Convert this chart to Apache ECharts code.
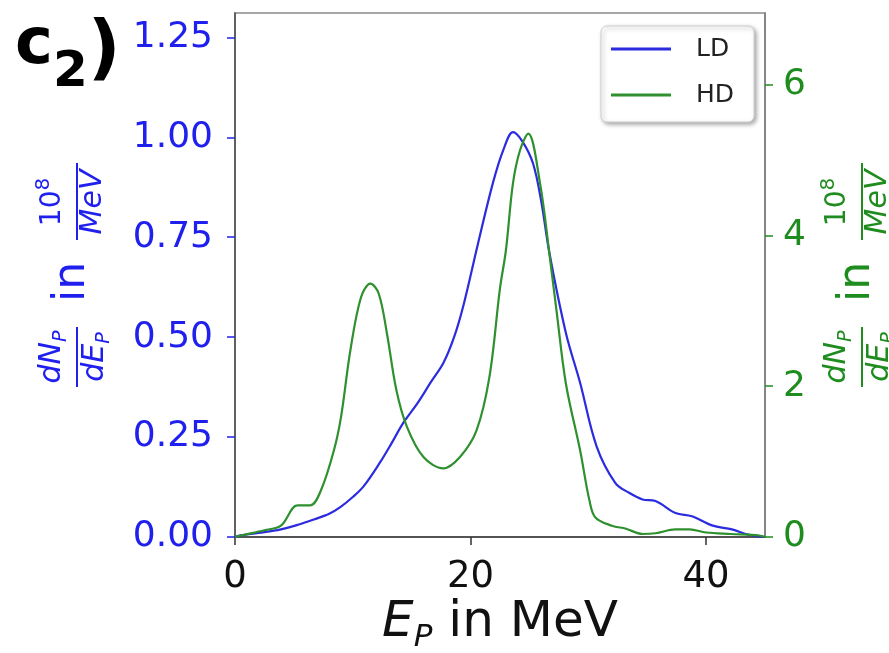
<!DOCTYPE html>
<html>
<head>
<meta charset="utf-8">
<script src="https://cdn.jsdelivr.net/npm/echarts@6/dist/echarts.min.js"></script>
<style>
html,body{margin:0;padding:0;background:#fff;}
#c{width:889px;height:653px;}
</style>
</head>
<body>
<div id="c"></div>
<script>
// ---- data ----
const ldX = [0, 0.5, 2, 3.9, 5.5, 6.7, 8, 9, 10, 10.9, 12.3, 13.3, 14.3, 15.5, 16.6, 17.7, 18.6, 19.4, 20.6, 21.9, 22.8, 23.6, 24.4, 25.3, 26.0, 26.7, 28.1, 29.3, 30.7, 32.3, 33.5, 34.6, 35.7, 37.4, 38.8, 40.5, 42.2, 43.6, 45];
const ldY = [0, 0.004, 0.01, 0.019, 0.032, 0.044, 0.058, 0.076, 0.1, 0.126, 0.186, 0.235, 0.286, 0.335, 0.386, 0.436, 0.5, 0.58, 0.73, 0.886, 0.97, 1.013, 0.99, 0.935, 0.84, 0.71, 0.51, 0.386, 0.227, 0.135, 0.11, 0.094, 0.09, 0.06, 0.052, 0.029, 0.019, 0.006, 0.0];
const hdX = [0, 0.5, 2.5, 3.9, 5.3, 6.4, 7.3, 8.4, 9.0, 9.8, 10.7, 11.5, 12.2, 12.9, 13.7, 14.6, 16.0, 17.7, 19.1, 20.5, 21.6, 22.5, 23.0, 23.6, 24.2, 24.9, 25.9, 26.7, 27.3, 28.1, 29.3, 30.1, 30.6, 32.0, 33.2, 34.6, 35.7, 37.4, 38.6, 40.0, 42.1, 44.5, 45];
const hdY = [0, 0.02, 0.09, 0.15, 0.42, 0.42, 0.62, 1.15, 1.59, 2.48, 3.18, 3.36, 3.23, 2.70, 1.95, 1.46, 1.06, 0.91, 1.06, 1.41, 2.12, 3.3, 3.8, 4.69, 5.13, 5.35, 4.69, 3.75, 3.0, 2.03, 1.15, 0.48, 0.26, 0.15, 0.11, 0.04, 0.05, 0.10, 0.10, 0.06, 0.04, 0.02, 0.0];
const xTicks = [0, 20, 40];
const leftTicks = [0, 0.25, 0.5, 0.75, 1.0, 1.25];
const rightTicks = [0, 2, 4, 6];
const seriesNames = ['LD', 'HD'];

// ---- styling ----
const BLUE = '#2020ee', BLUE_LINE = '#2b2bdf';
const GREEN = '#1f8c1f', GREEN_LINE = '#2e902e';
const FF = '"DejaVu Sans"';

const cv = document.createElement('canvas').getContext('2d');
function fontStr(p){ return (p.bold?'bold ':'') + (p.it?'italic ':'') + p.s + 'px ' + FF; }
function measure(p){ cv.font = fontStr(p); return cv.measureText(p.t).width; }
// sequence of text pieces centred on cx, baseline at by (local coords)
function seq(pieces, cx, by, color, alignLeft){
  const ws = pieces.map(measure);
  const W = ws.reduce((a,b)=>a+b,0);
  let x = alignLeft ? cx : cx - W/2;
  const out = [];
  pieces.forEach((p,i)=>{
    out.push({type:'text', style:{text:p.t, x:x, y:by + (p.b||0) - 0.35*p.s, font:fontStr(p), fill:color,
      textAlign:'left', textVerticalAlign:'middle', align:'left', verticalAlign:'middle'}});
    x += ws[i];
  });
  return out;
}
function axisNameGroup(px, py, color){
  const els = [];
  // fraction dN_P / dE_P
  els.push(...seq([{t:'dN',s:30,it:true},{t:'P',s:19,it:true,b:5}], -82, -9, color));
  els.push({type:'line', shape:{x1:-112,y1:5,x2:-52,y2:5}, style:{stroke:color,lineWidth:2}});
  els.push(...seq([{t:'dE',s:30,it:true},{t:'P',s:19,it:true,b:5}], -82, 34, color));
  // "in"
  els.push(...seq([{t:'in',s:44}], -7, 16, color));
  // fraction 10^8 / MeV
  els.push(...seq([{t:'10',s:28},{t:'8',s:20,b:-12}], 73, -9, color));
  els.push({type:'line', shape:{x1:35,y1:5,x2:112,y2:5}, style:{stroke:color,lineWidth:2}});
  els.push(...seq([{t:'MeV',s:30,it:true}], 73, 32, color));
  return {type:'group', x:px, y:py, rotation:Math.PI/2, children:els};
}

const chart = echarts.init(document.getElementById('c'), null, {renderer:'canvas'});
const option = {
  backgroundColor:'#fff',
  animation:false,
  grid:{left:235, right:124, top:13, bottom:116, show:true, borderColor:'#8a8a8a', borderWidth:1.5, backgroundColor:'transparent'},
  legend:{
    data:seriesNames, orient:'vertical', left:601, top:26,
    backgroundColor:'#fff', borderColor:'#cfcfcf', borderWidth:1, borderRadius:6,
    shadowColor:'rgba(0,0,0,0.35)', shadowBlur:4, shadowOffsetX:2, shadowOffsetY:2,
    padding:[8,20,12,10], itemWidth:60, itemHeight:3, itemGap:16, icon:'rect',
    textStyle:{fontFamily:FF, fontSize:25, color:'#222', lineHeight:30, padding:[0,0,0,20]}
  },
  xAxis:{
    type:'value', min:0, max:45,
    axisLine:{show:true, lineStyle:{color:'#3a3a3a', width:1.5}},
    axisTick:{show:true, length:8, lineStyle:{color:'#333', width:1.5}, customValues:xTicks},
    axisLabel:{show:true, color:'#111', fontSize:37, fontFamily:FF, margin:22, customValues:xTicks},
    splitLine:{show:false}
  },
  yAxis:[{
    type:'value', min:0, max:1.311, position:'left',
    axisLine:{show:true, onZero:false, lineStyle:{color:'#4a4a4a', width:1.5}},
    axisTick:{show:true, length:8, lineStyle:{color:BLUE, width:1.5}, customValues:leftTicks},
    axisLabel:{show:true, color:BLUE, fontSize:36, fontFamily:FF, margin:22, customValues:leftTicks, formatter:v=>v.toFixed(2)},
    splitLine:{show:false}
  },{
    type:'value', min:0, max:6.95, position:'right',
    axisLine:{show:true, onZero:false, lineStyle:{color:'#7a7a7a', width:1.5}},
    axisTick:{show:true, length:8, lineStyle:{color:GREEN, width:1.5}, customValues:rightTicks},
    axisLabel:{show:true, color:GREEN, fontSize:36, fontFamily:FF, margin:18, customValues:rightTicks, formatter:v=>String(Math.round(v))},
    splitLine:{show:false}
  }],
  series:[{
    name:seriesNames[0], type:'line', yAxisIndex:0, showSymbol:false, smooth:0.35,
    lineStyle:{color:BLUE_LINE, width:2.2}, itemStyle:{color:BLUE_LINE},
    data:ldX.map((x,i)=>[x, ldY[i]])
  },{
    name:seriesNames[1], type:'line', yAxisIndex:1, showSymbol:false, smooth:0.35,
    lineStyle:{color:GREEN_LINE, width:2.2}, itemStyle:{color:GREEN_LINE},
    data:hdX.map((x,i)=>[x, hdY[i]])
  }],
  graphic:[
    {type:'group', x:0, y:0, children: [
      ...seq([{t:'c',s:64,bold:true},{t:'2',s:50,bold:true,b:22},{t:')',s:72,bold:true,b:8}], 15, 69, '#000', true)
    ]},
    {type:'group', x:500, y:641, children: seq([{t:'E',s:50,it:true},{t:'P',s:31,it:true,b:8},{t:' in MeV',s:50}], 0, 0, '#111')},
    axisNameGroup(72, 275, BLUE),
    axisNameGroup(857, 275, GREEN)
  ]
};
chart.setOption(option);
</script>
</body>
</html>
